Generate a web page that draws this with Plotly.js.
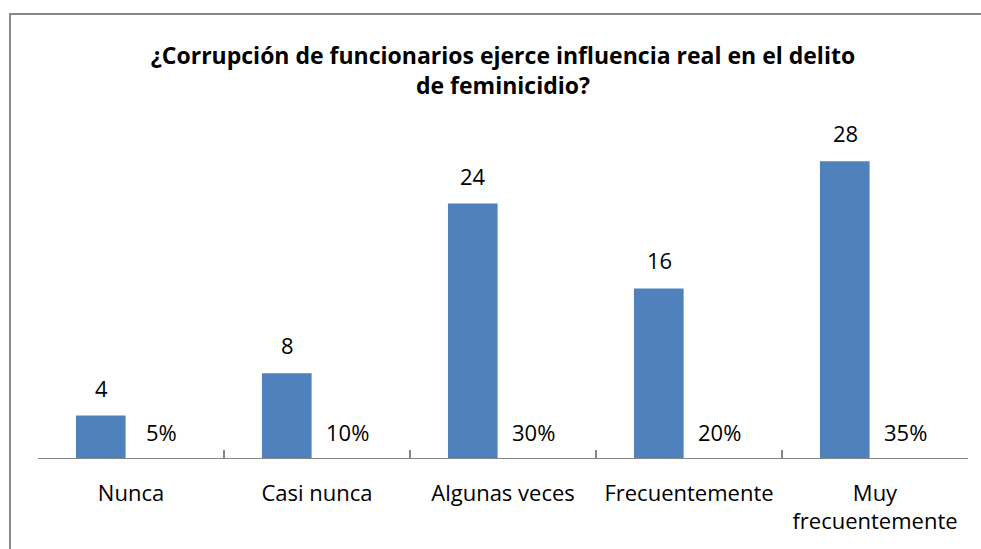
<!DOCTYPE html>
<html>
<head>
<meta charset="utf-8">
<script src="https://cdn.plot.ly/plotly-3.0.1.min.js"></script>
<style>
  html, body { margin: 0; padding: 0; background: #fff; overflow: hidden; }
  #wrap { position: relative; width: 981px; height: 549px; }
  #chart { width: 981px; height: 549px; }
  #frame { position: absolute; left: 9px; top: 13px; width: 1200px; height: 800px;
           border-left: 2px solid #8a8a8a; border-top: 2px solid #8a8a8a;
           pointer-events: none; box-sizing: border-box; }
</style>
</head>
<body>
<div id="wrap">
  <div id="chart"></div>
  <div id="frame"></div>
</div>
<script>
const categories = ["Nunca", "Casi nunca", "Algunas veces", "Frecuentemente", "Muy<br>frecuentemente"];
const counts = [4, 8, 24, 16, 28];
const percents = [5, 10, 30, 20, 35];
const titleText = "¿Corrupción de funcionarios ejerce influencia real en el delito<br>de feminicidio?";

const FONT = "Open Sans, Liberation Sans, sans-serif";

const bars = {
  type: "bar",
  x: categories,
  y: counts,
  width: 0.267,
  offset: -0.296,
  marker: { color: "#4F81BD", line: { width: 0 } },
  hoverinfo: "x+y",
  showlegend: false
};

const annotations = [];
categories.forEach((c, i) => {
  annotations.push({
    x: c, y: counts[i], xref: "x", yref: "y",
    text: String(counts[i]), showarrow: false,
    xanchor: "center", yanchor: "middle",
    xshift: -30, yshift: 28,
    font: { family: FONT, size: 22, color: "#000" }
  });
  annotations.push({
    x: c, y: 0, xref: "x", yref: "y",
    text: percents[i] + "%", showarrow: false,
    xanchor: "center", yanchor: "middle",
    xshift: 30, yshift: 26,
    font: { family: FONT, size: 22, color: "#000" }
  });
});

const layout = {
  width: 981, height: 549,
  margin: { l: 38, r: 13, t: 140, b: 91, pad: 0 },
  paper_bgcolor: "#fff", plot_bgcolor: "#fff",
  title: {
    text: titleText,
    x: 0.5, xanchor: "center", xref: "paper",
    y: 1 - 64 / 549, yanchor: "middle", yref: "container",
    font: { family: FONT, size: 23, color: "#000", weight: "bold" }
  },
  xaxis: {
    type: "category",
    showline: true, linecolor: "#868686", linewidth: 1.3,
    ticks: "inside", ticklen: 8, tickwidth: 1.3, tickcolor: "#868686",
    tickson: "boundaries",
    showgrid: false, zeroline: false,
    ticklabelstandoff: 15,
    tickfont: { family: FONT, size: 22, color: "#000" },
    fixedrange: true
  },
  yaxis: {
    range: [0, 30],
    visible: false,
    showgrid: false, zeroline: false,
    fixedrange: true
  },
  annotations: annotations,
  showlegend: false
};

Plotly.newPlot("chart", [bars], layout, { displayModeBar: false, staticPlot: true });
</script>
</body>
</html>
